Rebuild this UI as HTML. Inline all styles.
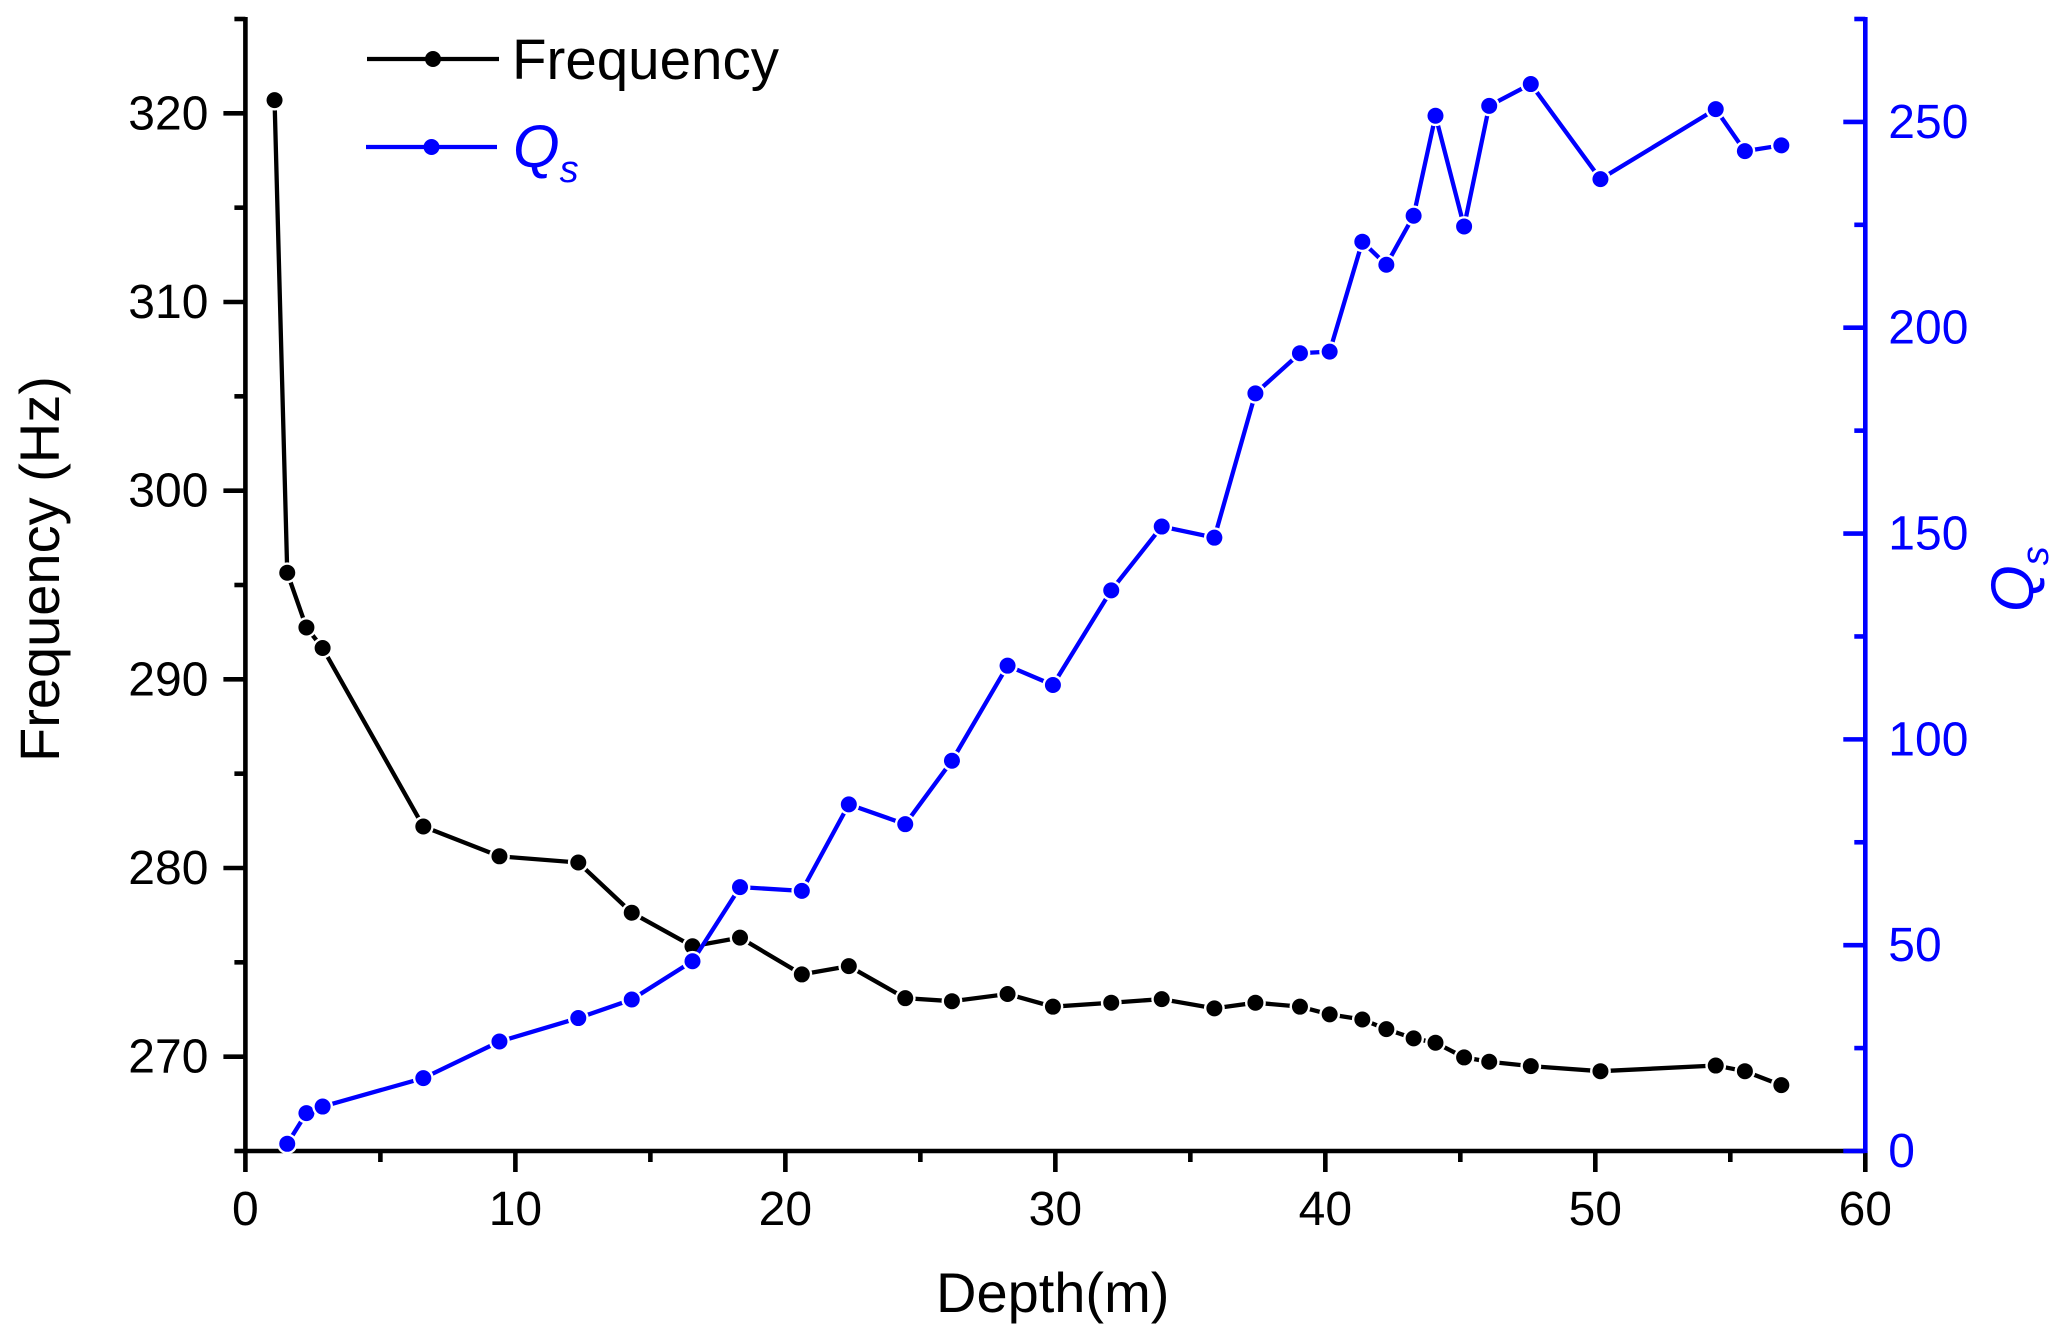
<!DOCTYPE html>
<html lang="en">
<head>
<meta charset="utf-8">
<title>Frequency and Qs versus depth</title>
<style>
html,body{margin:0;padding:0;background:#fff;}
svg{display:block;font-family:"Liberation Sans",sans-serif;}
</style>
</head>
<body>
<svg id="chart" xmlns="http://www.w3.org/2000/svg" width="2067" height="1342" viewBox="0 0 2067 1342">
  <rect x="0" y="0" width="2067" height="1342" fill="#ffffff"/>
  <g id="axes"></g>
  <g id="series"></g>
  <g>
    <g>
      <line x1="367" y1="59" x2="499" y2="59" stroke="#000" stroke-width="4.3"/>
      <circle cx="433" cy="59" r="8" fill="#000"/>
      <text x="512" y="79" font-size="56.5" fill="#000">Frequency</text>
    </g>
    <g>
      <line x1="366" y1="147" x2="497" y2="147" stroke="#0000ff" stroke-width="4.3"/>
      <circle cx="431.5" cy="147" r="8" fill="#0000ff"/>
      <text x="513" y="167" font-size="60" fill="#0000ff" font-style="italic">Q<tspan font-size="38" dy="15">s</tspan></text>
    </g>
  </g>
  <text x="936" y="1312" font-size="56" fill="#000">Depth(m)</text>
  <text transform="translate(59,762) rotate(-90)" font-size="56" fill="#000">Frequency (Hz)</text>
  <text transform="translate(2033,612) rotate(-90)" font-size="60" fill="#0000ff" font-style="italic">Q<tspan font-size="38" dy="15">s</tspan></text>
</svg>
<script>
const depths = [1.08,1.55,2.26,2.86,6.59,9.41,12.33,14.31,16.56,18.32,20.61,22.35,24.44,26.17,28.23,29.91,32.07,33.94,35.89,37.41,39.06,40.16,41.37,42.26,43.27,44.08,45.14,46.07,47.61,50.19,54.46,55.54,56.89];
const frequency = [320.7,295.65,292.75,291.66,282.2,280.62,280.29,277.63,275.85,276.31,274.36,274.8,273.1,272.94,273.32,272.65,272.86,273.05,272.56,272.86,272.65,272.24,271.97,271.46,270.97,270.74,269.96,269.73,269.5,269.23,269.53,269.23,268.49];
const qsDepths = [1.55,2.26,2.86,6.59,9.41,12.33,14.31,16.56,18.32,20.61,22.35,24.44,26.17,28.23,29.91,32.07,33.94,35.89,37.41,39.06,40.16,41.37,42.26,43.27,44.08,45.14,46.07,47.61,50.19,54.46,55.54,56.89];
const qs = [1.75,9.2,10.8,17.7,26.6,32.3,36.8,46.1,64.1,63.2,84.2,79.4,94.8,117.9,113.2,136.2,151.7,149,184.05,193.8,194.2,220.9,215.3,227.2,251.5,224.6,253.9,259.2,236.1,253.1,242.9,244.3];
const xTickLabels = [0,10,20,30,40,50,60];
const xMinorTicks = [5,15,25,35,45,55];
const freqTickLabels = [270,280,290,300,310,320];
const freqMinorTicks = [265,275,285,295,305,315,325];
const qsTickLabels = [0,50,100,150,200,250];
const qsMinorTicks = [25,75,125,175,225,275];

const NS = 'http://www.w3.org/2000/svg';
const BLACK = '#000000';
const BLUE = '#0000ff';
const xAxisLeft = 245.4, xAxisRight = 1865.3, axisBottom = 1151, axisTop = 19;
const fMin = 265, fMax = 325, qMin = 0, qMax = 275, xMin = 0, xMax = 60;
const axisWidth = 4.6;

function xScale(v){ return xAxisLeft + (v - xMin) / (xMax - xMin) * (xAxisRight - xAxisLeft); }
function fScale(v){ return axisBottom - (v - fMin) / (fMax - fMin) * (axisBottom - axisTop); }
function qScale(v){ return axisBottom - (v - qMin) / (qMax - qMin) * (axisBottom - axisTop); }

const axes = document.getElementById('axes');
const series = document.getElementById('series');

function drawLine(parent, x1, y1, x2, y2, color, width, name){
  const el = document.createElementNS(NS, 'line');
  el.setAttribute('x1', x1);
  el.setAttribute('y1', y1);
  el.setAttribute('x2', x2);
  el.setAttribute('y2', y2);
  el.setAttribute('stroke', color);
  el.setAttribute('stroke-width', width);
  
  
  parent.appendChild(el);
  return el;
}
function drawLabel(parent, x, y, text, anchor, color, name){
  const el = document.createElementNS(NS, 'text');
  el.setAttribute('x', x);
  el.setAttribute('y', y);
  el.setAttribute('font-size', '48');
  el.setAttribute('text-anchor', anchor);
  el.setAttribute('fill', color);
  
  
  el.textContent = text;
  parent.appendChild(el);
  return el;
}

/* x axis */
drawLine(axes, xAxisLeft, axisBottom, xAxisRight, axisBottom, BLACK, axisWidth, 'x-axis-line');
xTickLabels.forEach(function(v){
  const x = xScale(v);
  drawLine(axes, x, axisBottom, x, axisBottom + 21, BLACK, axisWidth, 'x-major-tick');
  drawLabel(axes, x, axisBottom + 74, String(v), 'middle', BLACK, 'x-tick-label');
});
xMinorTicks.forEach(function(v){
  const x = xScale(v);
  drawLine(axes, x, axisBottom, x, axisBottom + 11, BLACK, axisWidth, 'x-minor-tick');
});

/* left axis */
drawLine(axes, xAxisLeft, axisBottom + 2, xAxisLeft, axisTop - 2, BLACK, axisWidth, 'left-y-axis-line');
freqTickLabels.forEach(function(v){
  const y = fScale(v);
  drawLine(axes, xAxisLeft - 22, y, xAxisLeft, y, BLACK, axisWidth, 'left-y-major-tick');
  drawLabel(axes, xAxisLeft - 37, y + 16, String(v), 'end', BLACK, 'left-y-tick-label');
});
freqMinorTicks.forEach(function(v){
  const y = fScale(v);
  drawLine(axes, xAxisLeft - 11, y, xAxisLeft, y, BLACK, axisWidth, 'left-y-minor-tick');
});

/* right axis */
drawLine(axes, xAxisRight, axisBottom + 2, xAxisRight, axisTop - 2, BLUE, axisWidth, 'right-y-axis-line');
qsTickLabels.forEach(function(v){
  const y = qScale(v);
  drawLine(axes, xAxisRight - 22, y, xAxisRight, y, BLUE, axisWidth, 'right-y-major-tick');
  drawLabel(axes, xAxisRight + 23, y + 16, String(v), 'start', BLUE, 'right-y-tick-label');
});
qsMinorTicks.forEach(function(v){
  const y = qScale(v);
  drawLine(axes, xAxisRight - 11, y, xAxisRight, y, BLUE, axisWidth, 'right-y-minor-tick');
});

/* series: polyline, then white halo + dot for every point */
function drawSeries(xs, ys, yScale, color, key){
  const pts = xs.map(function(v, i){ return xScale(v) + ',' + yScale(ys[i]); }).join(' ');
  const line = document.createElementNS(NS, 'polyline');
  line.setAttribute('points', pts);
  line.setAttribute('fill', 'none');
  line.setAttribute('stroke', color);
  line.setAttribute('stroke-width', '4.3');
  
  
  series.appendChild(line);
  xs.forEach(function(v, i){
    const halo = document.createElementNS(NS, 'circle');
    halo.setAttribute('cx', xScale(v));
    halo.setAttribute('cy', yScale(ys[i]));
    halo.setAttribute('r', '10.4');
    halo.setAttribute('fill', '#ffffff');
    
    
    series.appendChild(halo);
    const dot = document.createElementNS(NS, 'circle');
    dot.setAttribute('cx', xScale(v));
    dot.setAttribute('cy', yScale(ys[i]));
    dot.setAttribute('r', '8');
    dot.setAttribute('fill', color);
    
    
    series.appendChild(dot);
  });
}
drawSeries(depths, frequency, fScale, BLACK, 'frequency');
drawSeries(qsDepths, qs, qScale, BLUE, 'qs');
</script>
</body>
</html>
